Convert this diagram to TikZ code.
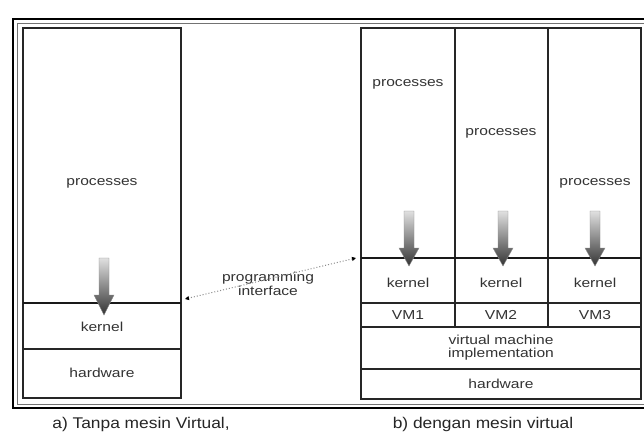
\documentclass[tikz,border=0pt]{standalone}
\usepackage{fontspec}
\setmainfont{Liberation Sans}[FakeStretch=1.2]
\newfontfamily\capfont{Liberation Sans}[FakeStretch=1.12]
\usetikzlibrary{arrows.meta}

% shaded downward arrow: centre x, top y, start of head y, tip y
\newcommand{\shadedarrowdown}[4]{%
  \shade[top color=black!12, bottom color=black!80, draw=black!45, line width=0.4pt]
    (#1-5,#2) -- (#1+5,#2) -- (#1+5,#3) -- (#1+10,#3) -- (#1,#4)
    -- (#1-10,#3) -- (#1-5,#3) -- cycle;}

\tikzset{
  cell/.style={draw=black!85, line width=1.2pt},
  heavy/.style={draw=black!90, line width=2.6pt},
  lbl/.style={inner sep=0pt, text=black!80, font=\fontsize{13}{15}\selectfont, align=center},
  caption/.style={inner sep=0pt, text=black!85, font=\capfont\fontsize{15.5}{17}\selectfont},
  iface/.style={draw=black!45, line width=1pt, dotted,
    {Triangle[length=4pt,width=4pt,black]}-{Triangle[length=4pt,width=4pt,black]}}
}

\begin{document}
\begin{tikzpicture}[x=1pt, y=-1pt]
  \useasboundingbox (0,0) rectangle (644,433);
  \fill[white] (0,0) rectangle (644,433);

  % outer double frame (open to the right)
  \draw[black, line width=2.8pt] (660,19) -- (13,19) -- (13,408) -- (660,408);
  \draw[black!55, line width=0.8pt] (660,23) -- (17.5,23) -- (17.5,404) -- (660,404);

  % ---- a) system without virtual machines ----
  \draw[cell] (23,28) rectangle (181,398);
  \draw[cell] (23,349) -- (181,349);

  \node[lbl] (lproc) at (102,183) {processes};
  \draw[heavy] (23,303) -- (181,303);
  \shadedarrowdown{104}{258}{295}{315}
  \node[lbl] (lkern) at (102,327) {kernel};
  \node[lbl] (lhw) at (102,373) {hardware};

  % ---- b) system with virtual machines ----
  \draw[cell] (361,28) rectangle (641,399);
  \draw[cell] (455,28) -- (455,327);
  \draw[cell] (548,28) -- (548,327);
  \draw[cell] (361,303) -- (641,303);
  \draw[cell] (361,327) -- (641,327);
  \draw[cell] (361,369) -- (641,369);

  \node[lbl] (proc1) at (408,84) {processes};
  \node[lbl] (proc2) at (501,133) {processes};
  \node[lbl] (proc3) at (595,183) {processes};

  \draw[heavy] (361,258) -- (641,258);
  \shadedarrowdown{409}{211}{248}{266}
  \shadedarrowdown{503}{211}{248}{266}
  \shadedarrowdown{595}{211}{248}{266}

  \node[lbl] (kern1) at (408,283) {kernel};
  \node[lbl] (kern2) at (501,283) {kernel};
  \node[lbl] (kern3) at (595,283) {kernel};
  \node[lbl] (vm1) at (408,315) {VM1};
  \node[lbl] (vm2) at (501,315) {VM2};
  \node[lbl] (vm3) at (595,315) {VM3};
  \node[lbl] (vmi) at (501,348) {virtual machine\\[-2pt]implementation};
  \node[lbl] (rhw) at (501,384) {hardware};

  % programming interface
  \node[lbl] (api) at (268,284) {programming\\[-1pt]interface};
  \coordinate (apiR) at (356,258);
  \coordinate (apiL) at (185,299);
  \draw[iface] (apiR) -- (apiL);

  % captions
  \node[caption] (capa) at (141,424) {a) Tanpa mesin Virtual,};
  \node[caption] (capb) at (483,424) {b) dengan mesin virtual};
\end{tikzpicture}
\end{document}
